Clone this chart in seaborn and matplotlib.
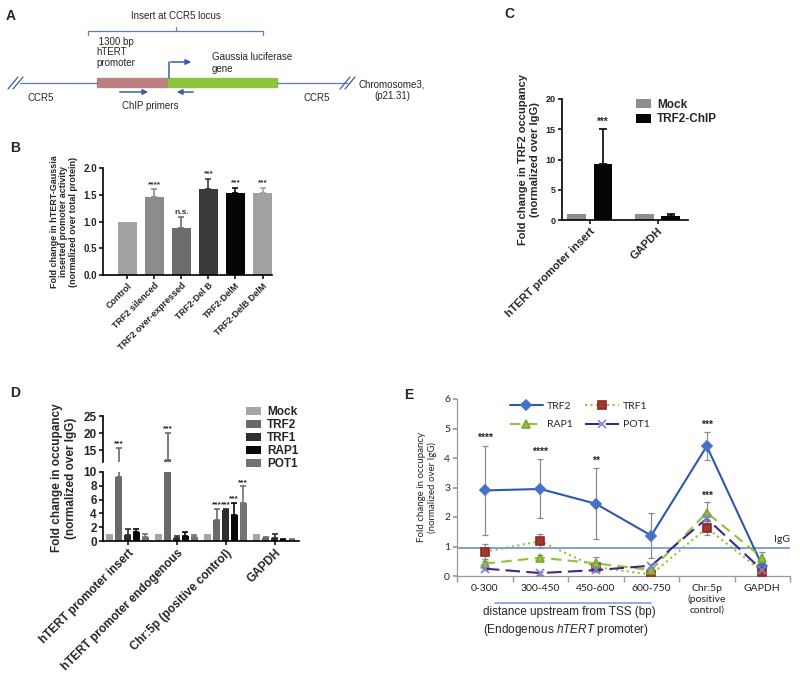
import numpy as np
import pandas as pd
import seaborn as sns
import matplotlib
matplotlib.use("Agg")
from matplotlib import pyplot as plt
from matplotlib.patches import Rectangle

# ---- panel B: promoter activity
b_labels = ["Control", "TRF2 silenced", "TRF2 over-expressed", "TRF2-Del B",
            "TRF2-DelM", "TRF2-DelB DelM"]
b_values = [1.0, 1.45, 0.88, 1.6, 1.53, 1.54]
b_err = [0.0, 0.15, 0.2, 0.19, 0.1, 0.08]
b_stars = ["", "****", "n.s.", "***", "***", "***"]
b_colors = ["#a2a2a2", "#8c8c8c", "#6c6c6c", "#3a3a3a", "#050505", "#a2a2a2"]

# ---- panel C: TRF2 ChIP
c_targets = ["hTERT promoter insert", "GAPDH"]
c_groups = ["Mock", "TRF2-ChIP"]
c_mock = [1.0, 1.0]
c_mock_err = [0.0, 0.0]
c_trf2 = [9.3, 0.6]
c_trf2_err = [5.8, 0.4]
c_colors = ["#8e8e8e", "#050505"]

# ---- panel D: shelterin ChIP
d_targets = ["hTERT promoter insert", "hTERT promoter endogenous",
             "Chr:5p (positive control)", "GAPDH"]
d_proteins = ["Mock", "TRF2", "TRF1", "RAP1", "POT1"]
d_mock = [1.0, 1.0, 1.0, 1.0]
d_trf2 = [9.3, 12.0, 3.1, 0.5]
d_trf1 = [0.9, 0.5, 4.5, 0.4]
d_rap1 = [1.3, 0.7, 3.8, 0.2]
d_pot1 = [0.6, 0.6, 5.5, 0.15]
d_mock_err = [0, 0, 0, 0]
d_trf2_err = [6.2, 8.0, 1.5, 0.1]
d_trf1_err = [0.9, 0.2, 0.1, 0.6]
d_rap1_err = [0.4, 0.6, 1.7, 0.1]
d_pot1_err = [0.4, 0.3, 2.4, 0.2]
d_stars = {("TRF2", 0): "***", ("TRF2", 1): "***", ("TRF2", 2): "***",
           ("TRF1", 2): "***", ("RAP1", 2): "***", ("POT1", 2): "***"}
d_colors = ["#a6a6a6", "#6a6a6a", "#2e2e2e", "#080808", "#727272"]

# ---- panel E: endogenous promoter scan
e_regions = ["0-300", "300-450", "450-600", "600-750",
             "Chr:5p\n(positive\ncontrol)", "GAPDH"]
e_trf2 = [2.9, 2.95, 2.45, 1.37, 4.4, 0.35]
e_trf2_err = [1.52, 1.0, 1.2, 0.75, 0.48, 0.1]
e_trf1 = [0.82, 1.18, 0.3, 0.05, 1.63, 0.15]
e_trf1_err = [0.25, 0.24, 0.1, 0.05, 0.25, 0.05]
e_rap1 = [0.42, 0.62, 0.43, 0.2, 2.15, 0.62]
e_rap1_err = [0.1, 0.1, 0.2, 0.05, 0.35, 0.2]
e_pot1 = [0.25, 0.1, 0.2, 0.35, 1.95, 0.2]
e_pot1_err = [0.05, 0.05, 0.05, 0.05, 0.1, 0.05]
e_trf2_stars = ["****", "****", "**", "", "***", ""]
e_igg = 0.95

sns.set_theme(style="ticks")
plt.rcParams["font.family"] = ["Liberation Sans", "DejaVu Sans"]
plt.rcParams["mathtext.fontset"] = "custom"
plt.rcParams["mathtext.it"] = "Liberation Sans:italic"
plt.rcParams["mathtext.rm"] = "Liberation Sans"

W, H = 800, 681
fig = plt.figure(figsize=(8, 6.81), dpi=100)


def box(l, t, r, b):
    return [l / W, 1 - b / H, (r - l) / W, (b - t) / H]


def letter(x, y, s):
    fig.text(x / W, 1 - y / H, s, fontsize=10, fontweight="bold", va="center", ha="left")


def up_errors(ax, bars, errs, colors=None, cap=2.5):
    for i, (bar, e) in enumerate(zip(bars, errs)):
        if e <= 0:
            continue
        xc = bar.get_x() + bar.get_width() / 2
        col = colors[i] if colors is not None else bar.get_facecolor()
        ax.errorbar([xc], [bar.get_height()], yerr=[[0], [e]], fmt="none",
                    ecolor=col, elinewidth=1.2, capsize=cap, capthick=1.2)


def style_axes(ax, size):
    sns.despine(ax=ax)
    for s in ("left", "bottom"):
        ax.spines[s].set_color("black")
        ax.spines[s].set_linewidth(1.2)
    ax.tick_params(axis="both", length=3, width=1.1, color="black", labelsize=size, pad=1.5)
    for t in ax.get_yticklabels() + ax.get_xticklabels():
        t.set_fontweight("bold")


# ================= A: schematic
letter(6, 16, "A")
ax_a = fig.add_axes(box(0, 0, 400, 125))
ax_a.set_xlim(0, 400)
ax_a.set_ylim(125, 0)
ax_a.axis("off")
blue = "#3b5cab"
lblue = "#5a7bd0"
ax_a.plot([20, 97], [83, 83], color=lblue, lw=0.9)
ax_a.plot([277, 347], [83, 83], color=lblue, lw=0.9)
for x0 in (8, 13, 340, 345):
    ax_a.plot([x0, x0 + 10], [89, 77], color=blue, lw=0.9)
ax_a.add_patch(Rectangle((97, 78), 71, 9, color="#bb8080"))
ax_a.add_patch(Rectangle((168, 78), 109, 9, color="#8cc63f"))
ax_a.plot([168.5, 168.5], [78, 62], color=blue, lw=1.1)
ax_a.annotate("", xy=(194, 62), xytext=(168, 62),
              arrowprops=dict(arrowstyle="-|>", color=blue, lw=1.1, mutation_scale=8))
ax_a.annotate("", xy=(151, 92), xytext=(117, 92),
              arrowprops=dict(arrowstyle="-|>", color=blue, lw=1.1, mutation_scale=8))
ax_a.annotate("", xy=(174, 92), xytext=(196, 92),
              arrowprops=dict(arrowstyle="-|>", color=blue, lw=1.1, mutation_scale=8))
ax_a.plot([88, 88, 263, 263], [35, 31, 31, 35], color=lblue, lw=0.9)
ax_a.plot([176, 176], [31, 27], color=lblue, lw=0.9)
ax_a.text(176, 16, "Insert at CCR5 locus", fontsize=7, ha="center", va="center")
ax_a.text(96, 37, " 1300 bp\nhTERT\npromoter", fontsize=7, ha="left", va="top", linespacing=1.05)
ax_a.text(212, 52, "Gaussia luciferase\ngene", fontsize=7, ha="left", va="top", linespacing=1.25)
ax_a.text(28, 98, "CCR5", fontsize=7, ha="left", va="center")
ax_a.text(303, 98, "CCR5", fontsize=7, ha="left", va="center")
ax_a.text(150, 106, "ChIP primers", fontsize=7, ha="center", va="center")
ax_a.text(392, 90, "Chromosome3,\n(p21.31)", fontsize=7, ha="center", va="center",
          multialignment="center", clip_on=False)

# ================= B: bars
letter(10, 148, "B")
ax_b = fig.add_axes(box(103, 168, 272, 275))
b_df = pd.DataFrame({"condition": b_labels, "fold": b_values})
sns.barplot(data=b_df, x="condition", y="fold", hue="condition", palette=b_colors,
            legend=False, width=0.7, errorbar=None, saturation=1, linewidth=0, ax=ax_b)
up_errors(ax_b, ax_b.patches, b_err, colors=b_colors)
for bar, e, s in zip(ax_b.patches, b_err, b_stars):
    if s:
        ax_b.text(bar.get_x() + bar.get_width() / 2, bar.get_height() + e + 0.03, s,
                  ha="center", va="bottom", fontsize=6, fontweight="bold", color="#333333")
ax_b.set_xlim(-0.9, 5.35)
ax_b.set_ylim(0, 2)
ax_b.set_yticks([0, 0.5, 1.0, 1.5, 2.0])
ax_b.set_yticklabels(["0.0", "0.5", "1.0", "1.5", "2.0"])
ax_b.set_xlabel("")
ax_b.set_ylabel("Fold change in hTERT-Gaussia\ninserted promoter activity\n(normalized over total protein)",
                fontsize=6.5, fontweight="bold", labelpad=4, linespacing=1.05)
style_axes(ax_b, 7)
plt.setp(ax_b.get_xticklabels(), rotation=45, ha="right", rotation_mode="anchor", fontsize=6.5)

# ================= C: TRF2 ChIP
letter(504, 14, "C")
ax_c = fig.add_axes(box(562, 99, 688, 220))
c_df = pd.DataFrame({"target": c_targets * 2,
                     "group": [g for g in c_groups for _ in c_targets],
                     "fold": c_mock + c_trf2})
sns.barplot(data=c_df, x="target", y="fold", hue="group", palette=c_colors, width=0.78,
            gap=0.3, errorbar=None, saturation=1, linewidth=0, ax=ax_c)
for cont, errs, col in zip(ax_c.containers, [c_mock_err, c_trf2_err], c_colors):
    up_errors(ax_c, cont, errs, colors=[col] * len(errs), cap=3)
tb = ax_c.containers[1][0]
ax_c.text(tb.get_x() + tb.get_width() / 2, c_trf2[0] + c_trf2_err[0] + 0.3, "***",
          ha="center", va="bottom", fontsize=7, fontweight="bold")
ax_c.set_xlim(-0.41, 1.45)
ax_c.set_ylim(0, 20)
ax_c.set_yticks([0, 5, 10, 15, 20])
ax_c.set_xlabel("")
ax_c.set_ylabel("Fold change in TRF2 occupancy\n(normalized over IgG)", fontsize=8,
                fontweight="bold", labelpad=4)
style_axes(ax_c, 6.5)
plt.setp(ax_c.get_xticklabels(), rotation=45, ha="right", rotation_mode="anchor", fontsize=8)
h, l = ax_c.get_legend_handles_labels()
ax_c.get_legend().remove()
fig.legend(h, l, loc="upper left", bbox_to_anchor=(636 / W, 1 - 99 / H), frameon=False,
           prop=dict(weight="bold", size=8.5), handlelength=1.3, handleheight=0.8,
           handletextpad=0.5, labelspacing=0.2, borderaxespad=0, borderpad=0)

# ================= D: broken-axis bars
letter(10, 393, "D")
ax_dl = fig.add_axes(box(103, 472, 299, 541))
ax_du = fig.add_axes(box(103, 416, 299, 462))
d_vals = [d_mock, d_trf2, d_trf1, d_rap1, d_pot1]
d_errs = [d_mock_err, d_trf2_err, d_trf1_err, d_rap1_err, d_pot1_err]
d_df = pd.DataFrame({"target": d_targets * len(d_proteins),
                     "protein": [p for p in d_proteins for _ in d_targets],
                     "fold": sum(d_vals, [])})
for ax in (ax_dl, ax_du):
    sns.barplot(data=d_df, x="target", y="fold", hue="protein", palette=d_colors,
                width=0.9, gap=0.2, errorbar=None, saturation=1, linewidth=0,
                legend=(ax is ax_dl), ax=ax)
    for cont, errs, col in zip(ax.containers, d_errs, d_colors):
        up_errors(ax, cont, errs, colors=[col] * len(errs), cap=2)
    ax.set_xlim(-0.5, 3.5)
    ax.set_xlabel("")
    ax.set_ylabel("")
for ci, (cont, prot) in enumerate(zip(ax_dl.containers, d_proteins)):
    for j, bar in enumerate(cont):
        s = d_stars.get((prot, j))
        if s:
            top = d_vals[ci][j] + d_errs[ci][j]
            tax = ax_du if top > 10 else ax_dl
            tax.text(bar.get_x() + bar.get_width() / 2, top + (0.3 if top > 10 else 0.1), s,
                     ha="center", va="bottom", fontsize=6, fontweight="bold")
ax_dl.set_ylim(0, 10)
ax_dl.set_yticks([0, 2, 4, 6, 8, 10])
ax_du.set_ylim(11.5, 25)
ax_du.set_yticks([15, 20, 25])
style_axes(ax_dl, 8.5)
style_axes(ax_du, 8.5)
ax_du.spines["bottom"].set_visible(False)
ax_du.set_xticks([])
plt.setp(ax_dl.get_xticklabels(), rotation=45, ha="right", rotation_mode="anchor", fontsize=8.5)
h, l = ax_dl.get_legend_handles_labels()
ax_dl.get_legend().remove()
fig.legend(h, l, loc="upper left", bbox_to_anchor=(246 / W, 1 - 406 / H), frameon=False,
           prop=dict(weight="bold", size=8.5), handlelength=1.3, handleheight=0.7,
           handletextpad=0.5, labelspacing=0.08, borderaxespad=0, borderpad=0)
fig.text(64 / W, 1 - 478 / H, "Fold change in occupancy\n(normalized over IgG)", rotation=90,
         ha="center", va="center", fontsize=8.5, fontweight="bold", multialignment="center")

# ================= E: line plot
letter(404, 395, "E")
ax_e = fig.add_axes(box(457, 399, 790, 576))
xs = np.arange(len(e_regions))
series = [
    ("TRF2", e_trf2, e_trf2_err, "#3057b0", "D", "-", "#4472c4", "#4472c4", 5),
    ("TRF1", e_trf1, e_trf1_err, "#92c13d", "s", ":", "#a5362e", "#8b2a22", 6),
    ("RAP1", e_rap1, e_rap1_err, "#92c13d", "^", (0, (5, 3)), "#92c13d", "#7aa830", 6),
    ("POT1", e_pot1, e_pot1_err, "#40288a", "x", (0, (7, 3)), "#8888dd", "#8080d8", 6),
]
for name, vals, errs, lc, mk, ls, mfc, mec, ms in series:
    ax_e.errorbar(xs, vals, yerr=errs, fmt="none", ecolor="#8c8c8c", capsize=2.5,
                  elinewidth=0.9, capthick=0.9, zorder=1)
    sns.lineplot(x=xs, y=vals, color=lc, marker=mk, linestyle=ls, markersize=ms,
                 markerfacecolor=mfc, markeredgecolor=mec, markeredgewidth=1.2,
                 lw=1.5, label=name, ax=ax_e, zorder=3)
for x, v, e, s in zip(xs, e_trf2, e_trf2_err, e_trf2_stars):
    if s:
        ax_e.text(x, v + e + 0.08, s, ha="center", va="bottom", fontsize=7.5, fontweight="bold")
ax_e.text(xs[4], e_rap1[4] + e_rap1_err[4] + 0.05, "***", ha="center", va="bottom",
          fontsize=7.5, fontweight="bold")
ax_e.axhline(e_igg, color="#6a8fd8", lw=1.2, zorder=2)
ax_e.text(5.35, e_igg + 0.12, "IgG", fontsize=7.5, ha="center", va="bottom", family="Lato")
ax_e.set_xlim(-0.5, 5.5)
ax_e.set_ylim(0, 6)
ax_e.set_xticks(xs)
ax_e.set_xticklabels(e_regions, family="Lato", fontsize=7.5, color="#222222")
ax_e.set_xticks(np.arange(-0.5, 6, 1), minor=True)
ax_e.tick_params(axis="x", which="major", length=0, pad=6)
ax_e.tick_params(axis="x", which="minor", length=4, color="#999999")
ax_e.tick_params(axis="y", length=3, color="#999999", labelsize=7.5, pad=2)
for t in ax_e.get_yticklabels():
    t.set_family("Lato")
sns.despine(ax=ax_e)
for s in ("left", "bottom"):
    ax_e.spines[s].set_color("#999999")
    ax_e.spines[s].set_linewidth(0.9)
ax_e.set_ylabel("Fold change in occupancy\n(normalized over IgG)", fontsize=7, family="Lato",
                labelpad=5)
h, l = ax_e.get_legend_handles_labels()
order = [l.index(n) for n in ["TRF2", "RAP1", "TRF1", "POT1"]]
ax_e.legend([h[i] for i in order], [l[i] for i in order], ncol=2, loc="upper left",
            bbox_to_anchor=(0.13, 1.04), frameon=False, prop=dict(family="Lato", size=7.5),
            handlelength=3.2, columnspacing=1.2, labelspacing=0.9, handletextpad=0.4)
bt = ax_e.get_xaxis_transform()
ax_e.plot([0.18, 3.0], [-0.153, -0.153], color="#7f9ee0", lw=1.2, transform=bt, clip_on=False)
ax_e.text(1.52, -0.26, "distance upstream from TSS (bp)\n(Endogenous $\\mathit{hTERT}$ promoter)",
          transform=bt, ha="center", va="center", fontsize=8.5,
          multialignment="left", linespacing=1.3)

fig.savefig("out.png", dpi=100)
